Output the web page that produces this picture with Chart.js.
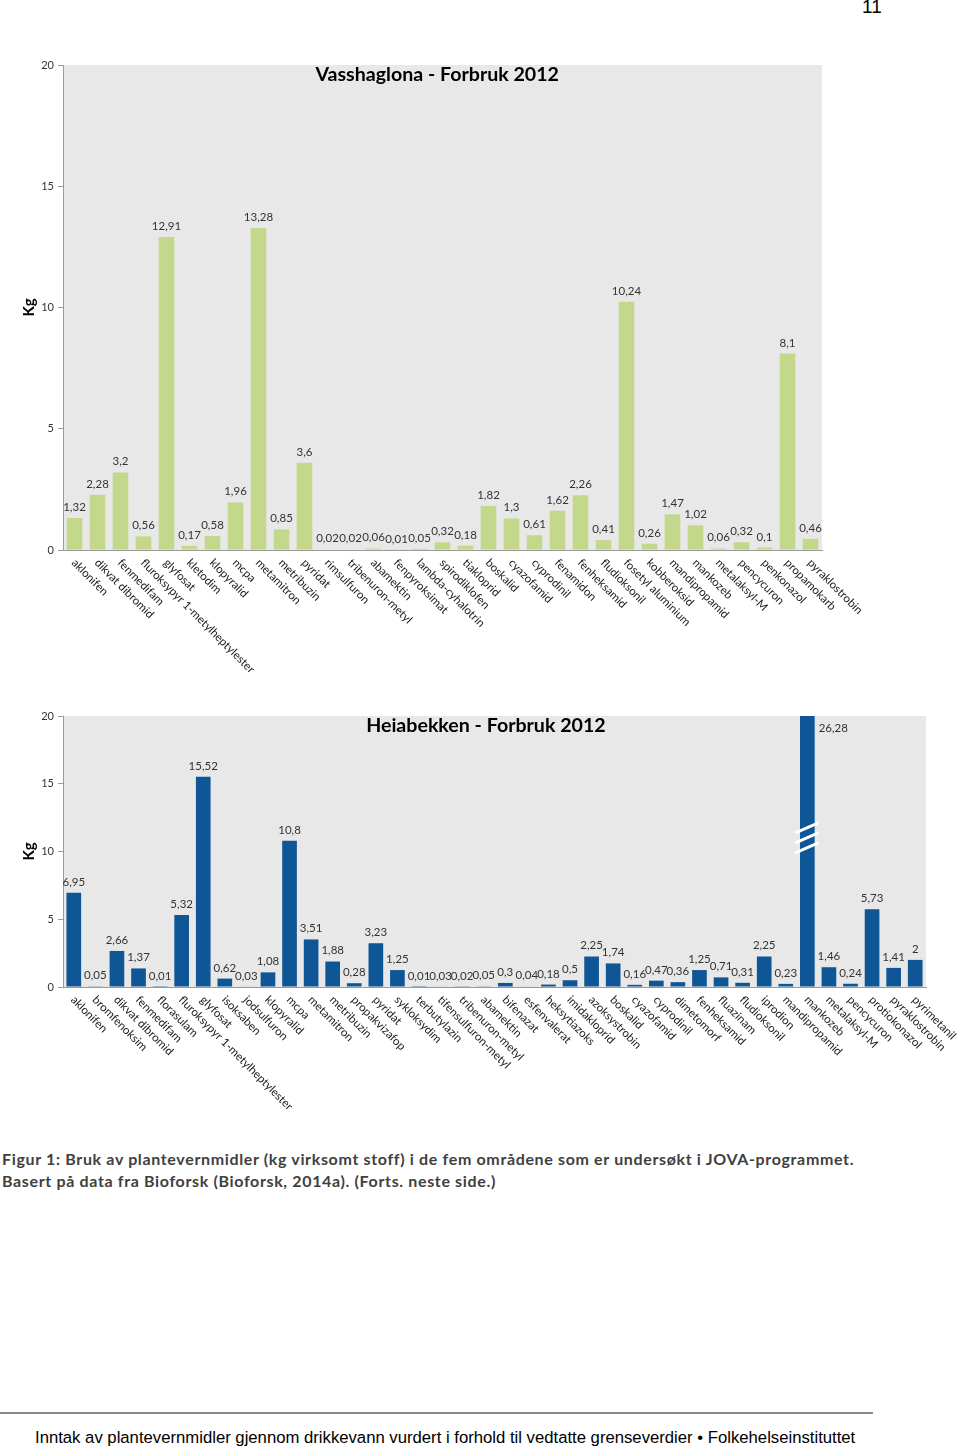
<!DOCTYPE html>
<html><head><meta charset="utf-8">
<script src="https://cdn.jsdelivr.net/npm/chart.js@4/dist/chart.umd.min.js"></script>
<style>
body{margin:0;background:#fff;width:960px;height:1449px;position:relative;overflow:hidden;font-family:'Liberation Sans',Arial,sans-serif}
#w1{position:absolute;left:0;top:40px;width:960px;height:650px}
#w2{position:absolute;left:0;top:690px;width:960px;height:440px}
.pn{position:absolute;left:862px;top:-4px;font-size:19px;color:#000}
.cap{position:absolute;left:2px;top:1148px;font-family:Lato,sans-serif;font-weight:bold;font-size:16px;letter-spacing:0.65px;color:#404040;line-height:22px;white-space:nowrap}
.rule{position:absolute;left:0;top:1412px;width:873px;height:2px;background:#8a8a8a}
.foot{position:absolute;left:35px;top:1428px;font-size:16.7px;color:#000;white-space:nowrap}
</style></head>
<body>
<div class="pn">11</div>
<div id="w1"><canvas id="c1" width="960" height="650"></canvas></div>
<div id="w2"><canvas id="c2" width="960" height="440"></canvas></div>
<div class="cap">Figur 1: Bruk av plantevernmidler (kg virksomt stoff) i de fem områdene som er undersøkt i JOVA-programmet.<br>Basert på data fra Bioforsk (Bioforsk, 2014a). (Forts. neste side.)</div>
<div class="rule"></div>
<div class="foot">Inntak av plantevernmidler gjennom drikkevann vurdert i forhold til vedtatte grenseverdier • Folkehelseinstituttet</div>
<script>
const titleVass = 'Vasshaglona - Forbruk 2012';
const catsVass = ['aklonifen','dikvat dibromid','fenmedifam','fluroksypyr 1-metylheptylester','glyfosat','kletodim','klopyralid','mcpa','metamitron','metribuzin','pyridat','rimsulfuron','tribenuron-metyl','abamektin','fenpyroksimat','lambda-cyhalotrin','spirodiklofen','tiakloprid','boskalid','cyazofamid','cyprodinil','fenamidon','fenheksamid','fludioksonil','fosetyl aluminium','kobberoksid','mandipropamid','mankozeb','metalaksyl-M','pencycuron','penkonazol','propamokarb','pyraklostrobin'];
const valsVass = [1.32,2.28,3.2,0.56,12.91,0.17,0.58,1.96,13.28,0.85,3.6,0.02,0.02,0.06,0.01,0.05,0.32,0.18,1.82,1.3,0.61,1.62,2.26,0.41,10.24,0.26,1.47,1.02,0.06,0.32,0.1,8.1,0.46];

const titleHeia = 'Heiabekken - Forbruk 2012';
const catsHeia = ['aklonifen','bromfenoksim','dikvat dibromid','fenmedifam','florasulam','fluroksypyr 1-metylheptylester','glyfosat','isoksaben','jodsulfuron','klopyralid','mcpa','metamitron','metribuzin','propakvizafop','pyridat','sykloksydim','terbutylazin','tifensulfuron-metyl','tribenuron-metyl','abamektin','bifenazat','esfenvalerat','heksytiazoks','imidakloprid','azoksystrobin','boskalid','cyazofamid','cyprodinil','dimetomorf','fenheksamid','fluazinam','fludioksonil','iprodion','mandipropamid','mankozeb','metalaksyl-M','pencycuron','protiokonazol','pyraklostrobin','pyrimetanil'];
const valsHeia = [6.95,0.05,2.66,1.37,0.01,5.32,15.52,0.62,0.03,1.08,10.8,3.51,1.88,0.28,3.23,1.25,0.01,0.03,0.02,0.05,0.3,0.04,0.18,0.5,2.25,1.74,0.16,0.47,0.36,1.25,0.71,0.31,2.25,0.23,26.28,1.46,0.24,5.73,1.41,2];

const yTicks = [0,5,10,15,20];
const yMax = 20;
const breakValue = 11;

const fmt = v => String(v).replace('.', ',');

const custom = {
  id: 'custom',
  beforeDraw(chart) {
    const {ctx, chartArea: a} = chart;
    ctx.save();
    ctx.fillStyle = '#e8e8e8';
    ctx.fillRect(a.left, a.top, a.right - a.left, a.bottom - a.top);
    ctx.restore();
  },
  afterDatasetsDraw(chart, args, opts) {
    const {ctx, chartArea: a, scales: {x, y}} = chart;
    const meta = chart.getDatasetMeta(0);
    const data = chart.data.datasets[0].data;
    ctx.save();
    ctx.font = '11.5px Lato';
    ctx.fillStyle = '#333';
    meta.data.forEach((bar, i) => {
      const v = data[i];
      if (v > y.max) {
        const yb = y.getPixelForValue(breakValue);
        ctx.strokeStyle = '#fff';
        ctx.lineWidth = 3;
        for (let k = -1; k <= 1; k++) {
          ctx.beginPath();
          ctx.moveTo(bar.x - 12, yb + k * 10 + 5);
          ctx.lineTo(bar.x + 11, yb + k * 10 - 5);
          ctx.stroke();
        }
        ctx.textAlign = 'left';
        ctx.textBaseline = 'middle';
        ctx.fillText(fmt(v), bar.x + bar.width / 2 + 4, a.top + 12);
      } else {
        ctx.textAlign = 'center';
        ctx.textBaseline = 'bottom';
        ctx.fillText(fmt(v), bar.x, bar.y - 5);
      }
    });
    ctx.fillStyle = '#222';
    ctx.font = '11.5px Lato';
    chart.data.labels.forEach((lab, i) => {
      const px = x.getPixelForValue(i);
      ctx.save();
      ctx.translate(px - 1, a.bottom + 11);
      ctx.rotate(Math.PI / 4);
      ctx.textAlign = 'left';
      ctx.textBaseline = 'middle';
      ctx.fillText(lab, 0, 0);
      ctx.restore();
    });
    ctx.font = 'bold 19.6px Lato';
    ctx.fillStyle = '#000';
    ctx.textAlign = 'center';
    ctx.textBaseline = 'middle';
    ctx.fillText(opts.title, a.left + (a.right - a.left) * opts.titleFrac, a.top + 10);
    ctx.restore();
  }
};

function makeChart(id, labels, values, color, title, titleFrac, padding, xh) {
  return new Chart(document.getElementById(id), {
    type: 'bar',
    data: { labels, datasets: [{ data: values, backgroundColor: color, barPercentage: 0.68, categoryPercentage: 1, clip: 0 }] },
    options: {
      responsive: false, animation: false,
      layout: { padding },
      plugins: { legend: { display: false }, tooltip: { enabled: false }, title: { display: false }, custom: { title, titleFrac } },
      scales: {
        x: {
          ticks: { display: false },
          grid: { display: false },
          border: { display: true, color: '#9a9a9a' },
          afterFit(s) { s.height = xh; }
        },
        y: {
          min: 0, max: yMax,
          afterBuildTicks(s) { s.ticks = yTicks.map(v => ({ value: v })); },
          ticks: { padding: 4, color: '#333', font: { family: 'Lato', size: 11 } },
          grid: { display: true, drawOnChartArea: false, drawTicks: true, tickLength: 5, color: '#9a9a9a' },
          border: { display: true, color: '#9a9a9a' },
          title: { display: true, text: 'Kg', color: '#000', font: { family: 'Lato', size: 15, weight: 'bold' }, padding: { top: 20, bottom: 0 } },
          afterFit(s) { s.width = 63; }
        }
      }
    },
    plugins: [custom]
  });
}

makeChart('c1', catsVass, valsVass, '#c4d88c', titleVass, 0.493, { top: 25, right: 138, left: 0, bottom: 0 }, 140);
makeChart('c2', catsHeia, valsHeia, '#0e5696', titleHeia, 0.49, { top: 26, right: 34, left: 0, bottom: 0 }, 143);
</script>
</body></html>
